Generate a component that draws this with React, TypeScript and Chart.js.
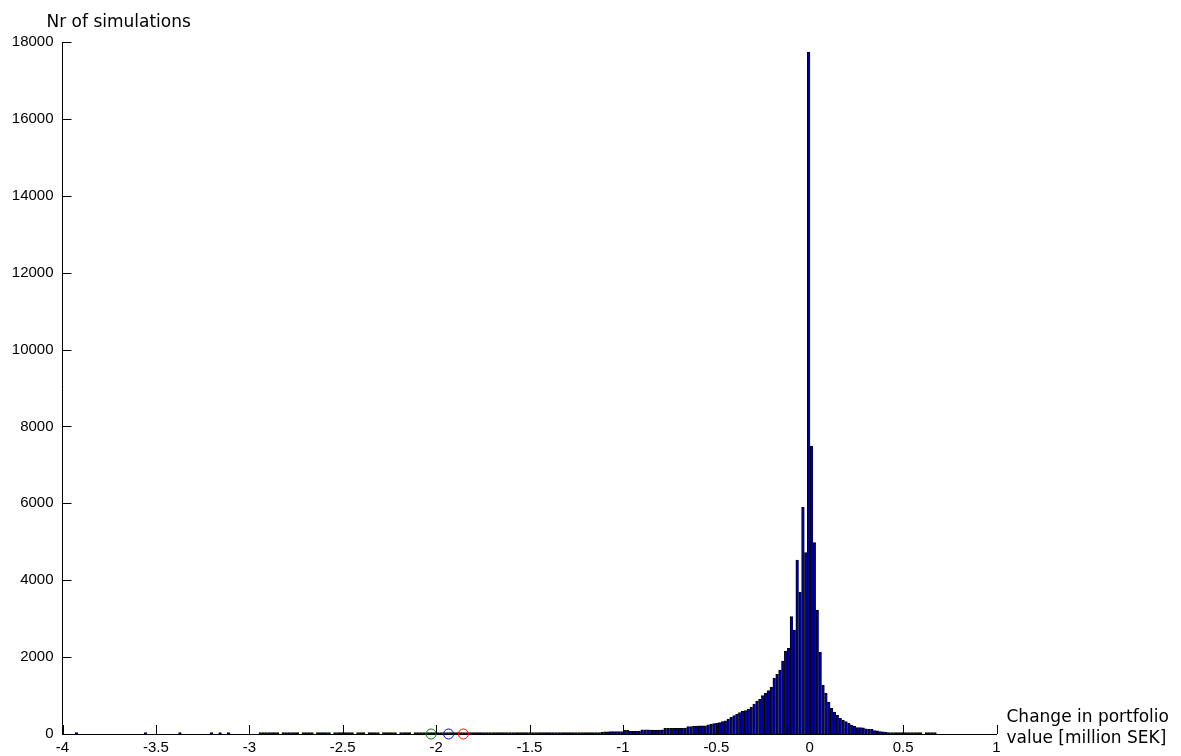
import React, { useEffect, useRef } from "react";
import { Chart, registerables } from "chart.js";

Chart.register(...registerables);

// Histogram: 300 equal bins starting at BIN_START
const BIN_START = -3.932;
const BIN_WIDTH = 0.01537;

// bins 0..181 (far left tail)
const tailCounts = [
  3, 0, 0, 0, 0, 0, 0, 0, 0, 0,
  0, 0, 0, 0, 0, 0, 0, 0, 0, 0,
  0, 0, 0, 0, 2, 0, 0, 0, 0, 0,
  0, 0, 0, 0, 0, 0, 2, 0, 0, 0,
  0, 0, 0, 0, 0, 0, 0, 2, 0, 0,
  2, 0, 0, 2, 0, 0, 0, 0, 0, 0,
  0, 0, 0, 0, 3, 2, 3, 2, 1, 3,
  2, 0, 3, 2, 2, 1, 3, 2, 0, 2,
  3, 2, 2, 0, 1, 2, 3, 2, 2, 0,
  2, 3, 2, 4, 3, 2, 3, 0, 2, 2,
  3, 0, 2, 3, 2, 2, 0, 3, 3, 2,
  3, 2, 0, 3, 3, 4, 3, 0, 4, 3,
  5, 6, 5, 6, 7, 6, 7, 8, 7, 8,
  8, 9, 8, 9, 10, 9, 10, 11, 10, 11,
  12, 11, 12, 13, 12, 13, 14, 13, 14, 15,
  15, 16, 15, 17, 16, 18, 17, 18, 19, 18,
  20, 19, 21, 20, 22, 21, 23, 22, 24, 23,
  25, 24, 26, 27, 26, 28, 29, 28, 30, 31,
  32, 34,
];

// bins 182..255 (body up to the peak)
const bodyCounts = [
  35, 44, 55, 55, 60, 60, 60, 60, 65, 100,
  95, 70, 70, 70, 75, 110, 110, 110, 105, 105,
  105, 105, 110, 145, 145, 150, 150, 150, 150, 150,
  155, 190, 195, 205, 205, 210, 210, 215, 240, 250,
  270, 280, 300, 320, 345, 390, 434, 480, 520, 560,
  590, 610, 640, 700, 780, 850, 900, 1000, 1058, 1127,
  1214, 1448, 1550, 1665, 1900, 2150, 2228, 3052, 2705, 4527,
  3686, 5897, 4718, 17740,
];

// bins 256..299 (right side)
const rightCounts = [
  7490, 4977, 3226, 2125, 1275, 1058, 824, 668, 564, 494,
  408, 364, 321, 278, 234, 200, 170, 165, 160, 135,
  130, 120, 90, 85, 62, 58, 44, 14, 12, 11,
  10, 9, 9, 8, 7, 7, 6, 5, 4, 0,
  22, 24, 20, 18,
];

// marker points on the x axis (value, y = 0)
const greenMarkerX = -2.027;
const blueMarkerX = -1.933;
const redMarkerX = -1.854;

const xTicks = [-4, -3.5, -3, -2.5, -2, -1.5, -1, -0.5, 0, 0.5, 1];
const yTicks = [0, 2000, 4000, 6000, 8000, 10000, 12000, 14000, 16000, 18000];

const yTitle = "Nr of simulations";
const xTitleLines = ["Change in portfolio", "value [million SEK]"];

export default function App() {
  const canvasRef = useRef<HTMLCanvasElement | null>(null);

  useEffect(() => {
    const canvas = canvasRef.current;
    if (!canvas) return;
    const counts = [...tailCounts, ...bodyCounts, ...rightCounts];
    const barData = counts.map((c, i) => ({
      x: BIN_START + (i + 0.5) * BIN_WIDTH,
      y: c > 0 ? c : null,
    }));

    const decor = {
      id: "matlabDecor",
      afterDatasetsDraw(chart: any) {
        const { ctx, chartArea, scales } = chart;
        const xs = scales.x;
        const ys = scales.y;
        ctx.save();
        ctx.strokeStyle = "#000";
        ctx.lineWidth = 1;
        ctx.beginPath();
        for (const v of xTicks) {
          const px = Math.round(xs.getPixelForValue(v)) + 0.5;
          ctx.moveTo(px, chartArea.bottom);
          ctx.lineTo(px, chartArea.bottom - 9);
        }
        for (const v of yTicks) {
          const py = Math.round(ys.getPixelForValue(v)) + 0.5;
          ctx.moveTo(chartArea.left, py);
          ctx.lineTo(chartArea.left + 9, py);
        }
        ctx.stroke();
        ctx.fillStyle = "#000";
        ctx.font = '17px "DejaVu Sans"';
        ctx.textAlign = "left";
        ctx.textBaseline = "alphabetic";
        ctx.fillText(yTitle, chartArea.left - 16, chartArea.top - 15);
        ctx.fillText(xTitleLines[0], chartArea.right + 10, chartArea.bottom - 12.5);
        ctx.fillText(xTitleLines[1], chartArea.right + 10, chartArea.bottom + 9);
        ctx.restore();
      },
    };

    const markerDataset = (x: number, color: string) => ({
      type: "scatter" as const,
      data: [{ x, y: 0 }],
      pointStyle: "circle",
      pointRadius: 5,
      pointBorderWidth: 1,
      pointBackgroundColor: "rgba(0,0,0,0)",
      pointBorderColor: color,
      borderColor: color,
      backgroundColor: "rgba(0,0,0,0)",
      showLine: false,
      clip: false as any,
    });

    const tickFont = { family: '"Liberation Sans", Arial, sans-serif', size: 15 };

    const chart = new Chart(canvas, {
      type: "bar",
      data: {
        datasets: [
          markerDataset(greenMarkerX, "#008000"),
          markerDataset(blueMarkerX, "#0000ff"),
          markerDataset(redMarkerX, "#ff0000"),
          {
            type: "bar",
            data: barData as any,
            backgroundColor: "#00008f",
            borderColor: "#000000",
            borderWidth: { top: 1, left: 1, right: 0, bottom: 0 },
            borderSkipped: "start",
            barPercentage: 1,
            categoryPercentage: 1,
            minBarLength: 1.5,
          } as any,
        ],
      },
      options: {
        responsive: false,
        animation: false,
        devicePixelRatio: 1,
        events: [],
        layout: { padding: { left: 0.5, top: 42, right: 184.5, bottom: 0 } },
        plugins: {
          legend: { display: false },
          tooltip: { enabled: false },
          title: { display: false },
        },
        scales: {
          x: {
            type: "linear",
            min: -4,
            max: 1,
            offset: false,
            afterBuildTicks: (s: any) => {
              s.ticks = xTicks.map((v) => ({ value: v }));
            },
            afterFit: (s: any) => {
              s.height = 22;
            },
            ticks: {
              autoSkip: false,
              maxRotation: 0,
              minRotation: 0,
              padding: 5,
              color: "#000",
              font: tickFont,
              callback: (v: any) => String(v),
            },
            grid: { display: false, drawTicks: false },
            border: { display: true, color: "#000", width: 1 },
          },
          y: {
            type: "linear",
            min: 0,
            max: 18000,
            afterBuildTicks: (s: any) => {
              s.ticks = yTicks.map((v) => ({ value: v }));
            },
            afterFit: (s: any) => {
              s.width = 62;
            },
            ticks: {
              autoSkip: false,
              padding: 9,
              color: "#000",
              font: tickFont,
              callback: (v: any) => String(v),
            },
            grid: { display: false, drawTicks: false },
            border: { display: true, color: "#000", width: 1 },
          },
        },
      } as any,
      plugins: [decor],
    });

    return () => {
      chart.destroy();
    };
  }, []);

  return (
    <div
      style={{
        position: "fixed",
        left: 0,
        top: 0,
        width: 1181,
        height: 756,
        background: "#ffffff",
      }}
    >
      <canvas
        ref={canvasRef}
        width={1181}
        height={756}
        style={{ width: 1181, height: 756, display: "block" }}
      />
    </div>
  );
}
